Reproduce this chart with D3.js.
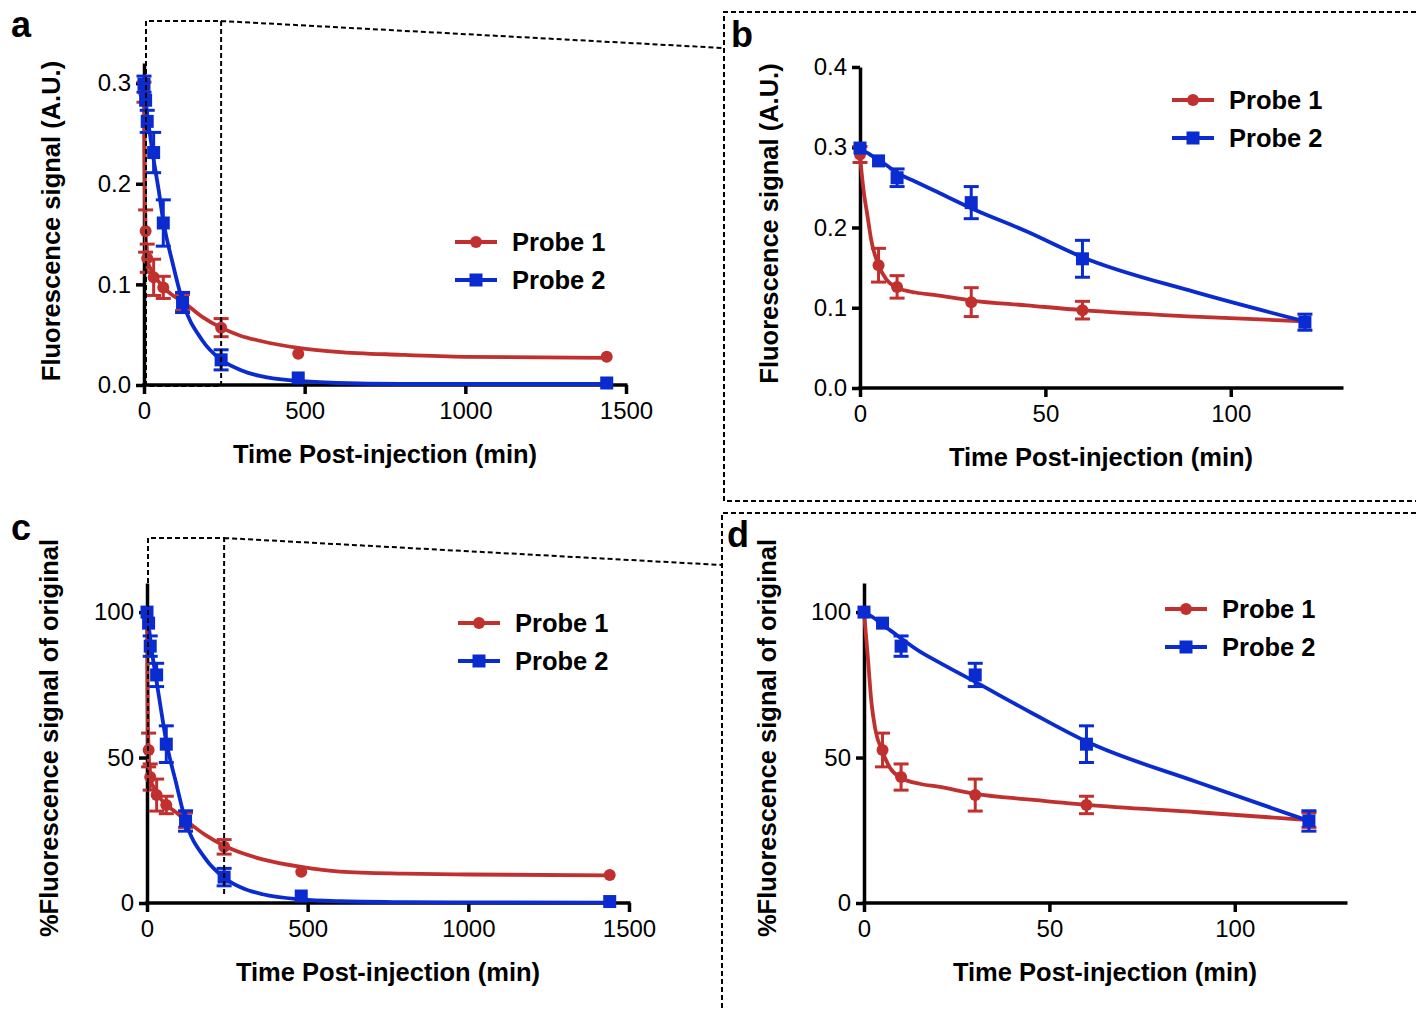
<!DOCTYPE html>
<html>
<head>
<meta charset="utf-8">
<script src="https://cdn.jsdelivr.net/npm/d3@7"></script>
<style>
  body { margin: 0; background: #fff; }
  text { font-family: Arial, 'Liberation Sans', sans-serif; }
</style>
</head>
<body>
<svg id="chart" width="1416" height="1011"></svg>
<script>
// measured time points (min)
const times = [0, 5, 10, 30, 60, 120, 240, 480, 1440];

// absolute fluorescence (A.U.), mean and error
const probe1Abs    = [0.291, 0.153, 0.126, 0.107, 0.097, 0.082, 0.057, 0.031, 0.028];
const probe1AbsErr = [0.010, 0.021, 0.014, 0.018, 0.011, 0.008, 0.009, 0.002, 0.001];
const probe2Abs    = [0.299, 0.283, 0.262, 0.231, 0.161, 0.082, 0.025, 0.007, 0.002];
const probe2AbsErr = [0.008, 0.003, 0.011, 0.020, 0.023, 0.010, 0.010, 0.002, 0.001];

// % of original, mean and error
const probe1Pct    = [100, 52.6, 43.3, 37.1, 33.7, 28.5, 19.3, 10.7, 9.6];
const probe1PctErr = [0.5, 5.8, 4.5, 5.5, 3.0, 2.5, 2.5, 0.8, 0.5];
const probe2Pct    = [100, 96.2, 88.3, 78.4, 54.6, 28.2, 8.9, 2.4, 0.5];
const probe2PctErr = [0.5, 1.0, 3.5, 4.0, 6.3, 3.5, 3.0, 0.8, 0.3];

// fitted decay curves
const fitTimes   = [0, 1, 2, 3, 5, 7, 10, 15, 20, 30, 45, 60, 90, 120, 180, 240, 300, 360, 480, 600, 800, 1000, 1440];
const fit1Abs    = [0.288, 0.245, 0.215, 0.185, 0.153, 0.136, 0.125, 0.119, 0.116, 0.109, 0.103, 0.097, 0.089, 0.083,
                    0.068, 0.057, 0.049, 0.044, 0.037, 0.033, 0.030, 0.028, 0.027];
const fit2Abs    = [0.297, 0.295, 0.293, 0.290, 0.283, 0.278, 0.268, 0.257, 0.246, 0.224, 0.195, 0.163, 0.120, 0.083,
                    0.045, 0.025, 0.015, 0.009, 0.004, 0.002, 0.001, 0.001, 0.001];
const fit1Pct    = [100, 85, 69, 60, 52, 46.5, 43, 41, 40, 37.5, 35.5, 33.7, 31.2, 28.5,
                    23.5, 19.7, 17, 15, 12.4, 10.8, 10.1, 9.8, 9.5];
const fit2Pct    = [100, 99.3, 98.5, 97.7, 95.5, 93.8, 91, 86.5, 82.9, 76, 65.5, 55.5, 41.5, 28.2,
                    15.5, 8.7, 5, 3, 1.2, 0.6, 0.3, 0.2, 0.1];

const longTicksX  = [0, 500, 1000, 1500];
const shortTicksX = [0, 50, 100];
const absTicksY   = [0, 0.1, 0.2, 0.3];
const absTicksYb  = [0, 0.1, 0.2, 0.3, 0.4];
const pctTicksY   = [0, 50, 100];

const seriesNames = ['Probe 1', 'Probe 2'];
const RED = '#C0302F', BLUE = '#0A2BD0';

const svg = d3.select('#chart');

function drawPanel(p) {
  const g = svg.append('g');
  const x = d3.scaleLinear().domain(p.xDomain).range(p.xRange);
  const y = d3.scaleLinear().domain(p.yDomain).range(p.yRange);
  const n = p.count;
  const tMax = p.xDomain[1];

  const xAxis = g.append('g').attr('transform', `translate(0,${p.yRange[0]})`)
    .call(d3.axisBottom(x).tickValues(p.xTicks).tickSize(9).tickSizeOuter(0).tickPadding(8).tickFormat(d3.format('d')));
  const yAxis = g.append('g').attr('transform', `translate(${p.xRange[0]},0)`)
    .call(d3.axisLeft(y).tickValues(p.yTicks).tickSize(8).tickSizeOuter(0).tickPadding(5).tickFormat(p.yFormat));
  [xAxis, yAxis].forEach(a => {
    a.select('.domain').attr('stroke', '#000').attr('stroke-width', 3.5);
    a.selectAll('.tick line').attr('stroke', '#000').attr('stroke-width', 3.5);
    a.selectAll('.tick text').attr('fill', '#000').style('font-size', '24px');
  });
  // make axes meet at the origin
  xAxis.select('.domain').attr('d', `M${p.xRange[0] - 1.75},0H${p.xRange[1] + 1.5}`);

  const series = [
    { name: seriesNames[0], vals: p.s1, errs: p.e1, fit: p.f1, color: RED, shape: 'circle' },
    { name: seriesNames[1], vals: p.s2, errs: p.e2, fit: p.f2, color: BLUE, shape: 'square' }
  ];

  const line = d3.line().curve(d3.curveMonotoneX).x(d => x(d[0])).y(d => y(d[1]));

  series.forEach(s => {
    const fitPts = fitTimes.map((t, i) => [t, s.fit[i]]).filter(d => d[0] <= tMax);
    g.append('path').datum(fitPts).attr('d', line)
      .attr('fill', 'none').attr('stroke', s.color).attr('stroke-width', 3.8);

    const pts = times.slice(0, n).map((t, i) => [t, s.vals[i], s.errs[i]]);
    // error bars hidden behind the symbol are not drawn (as in the original)
    const barPts = pts.filter(d => Math.abs(y(d[1]) - y(d[1] + d[2])) > 6.5);
    const eb = g.append('g').selectAll('g').data(barPts).join('g');
    eb.append('line')
      .attr('x1', d => x(d[0])).attr('x2', d => x(d[0]))
      .attr('y1', d => y(d[1] - d[2])).attr('y2', d => y(d[1] + d[2]))
      .attr('stroke', s.color).attr('stroke-width', 3);
    [-1, 1].forEach(sg => eb.append('line')
      .attr('x1', d => x(d[0]) - 7.5).attr('x2', d => x(d[0]) + 7.5)
      .attr('y1', d => y(d[1] + sg * d[2])).attr('y2', d => y(d[1] + sg * d[2]))
      .attr('stroke', s.color).attr('stroke-width', 3));
    drawMarkers(g, pts.map(d => [x(d[0]), y(d[1])]), s);
  });

  // legend
  series.forEach((s, i) => {
    const ly = p.legend[1] + i * 38;
    g.append('line').attr('x1', p.legend[0]).attr('x2', p.legend[0] + 42)
      .attr('y1', ly).attr('y2', ly).attr('stroke', s.color).attr('stroke-width', 3.8);
    drawMarkers(g, [[p.legend[0] + 21, ly]], s);
    g.append('text').attr('x', p.legend[0] + 57).attr('y', ly + 9)
      .style('font-size', '25.5px').style('font-weight', 'bold').text(s.name);
  });

  // axis titles
  g.append('text').attr('x', (p.xRange[0] + p.xRange[1]) / 2).attr('y', p.yRange[0] + 78)
    .attr('text-anchor', 'middle').style('font-size', '25.5px').style('font-weight', 'bold')
    .text('Time Post-injection (min)');
  g.append('text')
    .attr('transform', `translate(${p.yTitleX},${(p.yRange[0] + p.yRange[1]) / 2 - p.yTitleShift}) rotate(-90)`)
    .attr('text-anchor', 'middle').style('font-size', '25.5px').style('font-weight', 'bold')
    .text(p.yTitle);

  g.append('text').attr('x', p.label[0]).attr('y', p.label[1])
    .style('font-size', '36px').style('font-weight', 'bold').text(p.letter);

  return { x, y };
}

function drawMarkers(g, pts, s) {
  if (s.shape === 'circle') {
    g.append('g').selectAll('circle').data(pts).join('circle')
      .attr('cx', d => d[0]).attr('cy', d => d[1]).attr('r', 6).attr('fill', s.color);
  } else {
    g.append('g').selectAll('rect').data(pts).join('rect')
      .attr('x', d => d[0] - 6.5).attr('y', d => d[1] - 6.5)
      .attr('width', 13).attr('height', 13).attr('fill', s.color);
  }
}

const fmt1 = d3.format('.1f');
const fmtInt = d3.format('d');

const A = drawPanel({ letter: 'a', label: [11, 37], count: 9,
  xDomain: [0, 1500], xRange: [144, 626], yDomain: [0, 0.32], yRange: [385, 63],
  xTicks: longTicksX, yTicks: absTicksY, yFormat: fmt1,
  s1: probe1Abs, e1: probe1AbsErr, s2: probe2Abs, e2: probe2AbsErr, f1: fit1Abs, f2: fit2Abs,
  legend: [455, 242], yTitleX: 60, yTitleShift: 3, yTitle: 'Fluorescence signal (A.U.)' });

const B = drawPanel({ letter: 'b', label: [731, 47], count: 6,
  xDomain: [0, 130], xRange: [860, 1342], yDomain: [0, 0.4], yRange: [388, 67],
  xTicks: shortTicksX, yTicks: absTicksYb, yFormat: fmt1,
  s1: probe1Abs, e1: probe1AbsErr, s2: probe2Abs, e2: probe2AbsErr, f1: fit1Abs, f2: fit2Abs,
  legend: [1172, 100], yTitleX: 778, yTitleShift: 4, yTitle: 'Fluorescence signal (A.U.)' });

const C = drawPanel({ letter: 'c', label: [11, 540], count: 9,
  xDomain: [0, 1500], xRange: [147, 629], yDomain: [0, 110], yRange: [903, 583],
  xTicks: longTicksX, yTicks: pctTicksY, yFormat: fmtInt,
  s1: probe1Pct, e1: probe1PctErr, s2: probe2Pct, e2: probe2PctErr, f1: fit1Pct, f2: fit2Pct,
  legend: [458, 623], yTitleX: 58, yTitleShift: 5, yTitle: '%Fluorescence signal of original' });

const D = drawPanel({ letter: 'd', label: [727, 547], count: 6,
  xDomain: [0, 130], xRange: [864, 1346], yDomain: [0, 110], yRange: [903, 583],
  xTicks: shortTicksX, yTicks: pctTicksY, yFormat: fmtInt,
  s1: probe1Pct, e1: probe1PctErr, s2: probe2Pct, e2: probe2PctErr, f1: fit1Pct, f2: fit2Pct,
  legend: [1165, 609], yTitleX: 776, yTitleShift: 5, yTitle: '%Fluorescence signal of original' });

// zoom-region annotations (dashed)
const dash = sel => sel.attr('fill', 'none').attr('stroke', '#000')
  .attr('stroke-width', 2).attr('stroke-dasharray', '5,3');

const zoomEnd = 240;
const ax0 = A.x(0) + 2, ax1 = A.x(zoomEnd);
svg.append('path').call(dash)
  .attr('d', `M${ax0},386V21H${ax1}V386H${ax0}M${ax1},21L723,48`);
svg.append('path').call(dash).attr('d', 'M1416,12H724V501H1416');

const cx0 = C.x(0) + 1, cx1 = C.x(zoomEnd);
svg.append('path').call(dash)
  .attr('d', `M${cx0},903V538H${cx1}V897M${cx1},538L722,565`);
svg.append('path').call(dash).attr('d', 'M1416,513H722V1011');
</script>
</body>
</html>
